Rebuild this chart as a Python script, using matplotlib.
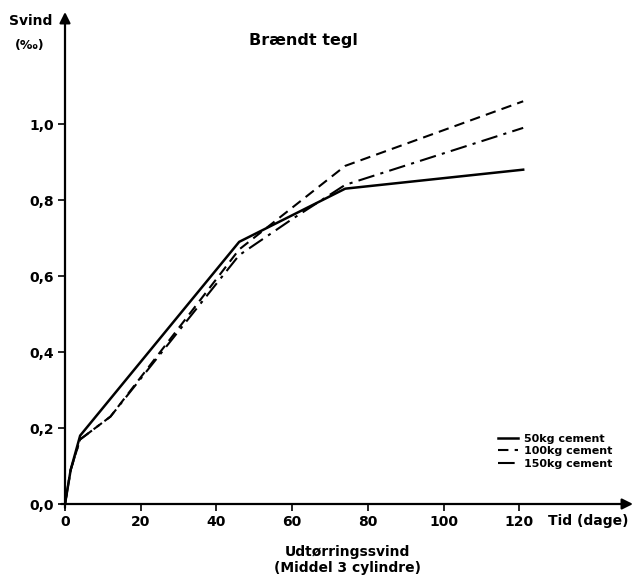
import matplotlib
matplotlib.use("Agg")
import matplotlib.pyplot as plt

# data (dage, svind in promille)
days_50 = [0, 1.5, 4, 46, 74, 121]
svind_50 = [0, 0.09, 0.18, 0.69, 0.83, 0.88]

days_100 = [0, 1.5, 4, 12, 46, 74, 121]
svind_100 = [0, 0.09, 0.17, 0.23, 0.67, 0.89, 1.06]

days_150 = [0, 1.5, 4, 12, 46, 60, 74, 121]
svind_150 = [0, 0.09, 0.17, 0.23, 0.655, 0.75, 0.84, 0.99]

labels = ["50kg cement", "100kg cement", "150kg cement"]
x_ticks = [0, 20, 40, 60, 80, 100, 120]
y_ticks = [0.0, 0.2, 0.4, 0.6, 0.8, 1.0]
y_ticklabels = ["0,0", "0,2", "0,4", "0,6", "0,8", "1,0"]

plt.rcParams["font.family"] = "DejaVu Sans"

fig = plt.figure(figsize=(6.41, 5.8), dpi=100)
ax = fig.add_axes([65 / 641, 76 / 580, 568 / 641, 492 / 580])
ax.set_xlim(0, 150)
ax.set_ylim(0, 1.295)

ax.plot(days_50, svind_50, color="black", lw=1.8, ls="-", label=labels[0])
ax.plot(days_100, svind_100, color="black", lw=1.5, ls=(0, (5, 3)), label=labels[1])
ax.plot(days_150, svind_150, color="black", lw=1.5, ls=(0, (8, 3, 1.5, 3)), label=labels[2])

# axes drawn as arrows, no box
for s in ax.spines.values():
    s.set_visible(False)
arrow = dict(arrowstyle="-|>", color="black", lw=1.6, mutation_scale=16, shrinkA=0, shrinkB=0)
ax.annotate("", xy=(150, 0), xytext=(-1, 0), arrowprops=arrow, annotation_clip=False)
ax.annotate("", xy=(0, 1.295), xytext=(0, -0.01), arrowprops=arrow, annotation_clip=False)

ax.set_xticks(x_ticks)
ax.set_yticks(y_ticks)
ax.set_yticklabels(y_ticklabels)
ax.tick_params(axis="both", direction="out", length=5, width=1.2, labelsize=10, pad=3)
for t in ax.get_xticklabels() + ax.get_yticklabels():
    t.set_fontweight("bold")

ax.text(127.5, -0.045, "Tid (dage)", fontsize=10, fontweight="bold", va="center", ha="left")
fig.text(31 / 641, 1 - 21 / 580, "Svind", fontsize=10, fontweight="bold", ha="center", va="center")
fig.text(30 / 641, 1 - 46 / 580, "(‰)", fontsize=9, fontweight="bold", ha="center", va="center")
fig.text(303 / 641, 1 - 40 / 580, "Brændt tegl", fontsize=11.5, fontweight="bold", ha="center", va="center")
fig.text(347 / 641, 1 - 560 / 580, "Udtørringssvind\n(Middel 3 cylindre)", fontsize=10,
         fontweight="bold", ha="center", va="center", linespacing=1.1)

leg = ax.legend(loc="upper left", bbox_to_anchor=(492 / 641, 1 - 428 / 580),
                bbox_transform=fig.transFigure, frameon=False, fontsize=8,
                handlelength=1.8, handletextpad=0.6, labelspacing=0.25, borderpad=0)
for t in leg.get_texts():
    t.set_fontweight("bold")

fig.savefig("out.png", dpi=100)
